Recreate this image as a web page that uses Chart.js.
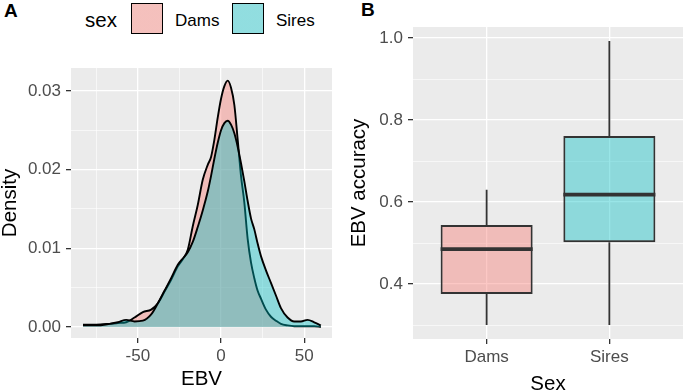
<!DOCTYPE html>
<html>
<head>
<meta charset="utf-8">
<script src="https://cdn.jsdelivr.net/npm/chart.js@4.4.0/dist/chart.umd.min.js"></script>
<style>
  body { margin: 0; width: 685px; height: 390px; overflow: hidden; background: #fff; position: relative;
         font-family: "Liberation Sans", Arial, sans-serif; }
  canvas { position: absolute; top: 0; }
  #panelA { left: 0; }
  #panelB { left: 340px; }
  .tag { position: absolute; font-weight: bold; font-size: 19px; line-height: 20px; color: #000; }
  .leg { position: absolute; color: #000; white-space: nowrap; }
  .key { position: absolute; top: 3px; width: 32px; height: 31px; box-sizing: border-box; border: 1.5px solid #000; }
</style>
</head>
<body>
<div class="tag" style="left:4px; top:1px;">A</div>
<div class="tag" style="left:361px; top:0px;">B</div>

<div class="leg" style="left:85px; top:8px; font-size:20.5px; line-height:24px;">sex</div>
<div class="key" style="left:131px; background: linear-gradient(rgba(248,118,109,0.4), rgba(248,118,109,0.4)), #f2f2f2;"></div>
<div class="leg" style="left:175px; top:11px; font-size:17px; line-height:20px;">Dams</div>
<div class="key" style="left:232px; background: linear-gradient(rgba(0,191,196,0.4), rgba(0,191,196,0.4)), #f2f2f2;"></div>
<div class="leg" style="left:276px; top:11px; font-size:17px; line-height:20px;">Sires</div>

<canvas id="panelA" width="340" height="390"></canvas>
<canvas id="panelB" width="345" height="390"></canvas>

<script>
// --- panel A: EBV density by sex
const ebvGrid = [-83, -75, -67, -62, -57, -52, -47, -42, -38, -34, -30, -26, -23, -20, -17, -14, -11, -8, -6, -4, -2,
                 0, 2, 4, 6, 8, 10, 12, 14, 16, 18, 20, 22, 24, 27, 30, 33, 36, 40, 44, 48, 52, 56, 60];
const damsDensity = [0.0003, 0.0003, 0.0004, 0.0005, 0.0006, 0.0012, 0.0019, 0.0022, 0.0030, 0.0045, 0.0060,
                     0.0077, 0.0086, 0.0098, 0.0128, 0.0155, 0.0187, 0.0206, 0.0216, 0.0238, 0.0266,
                     0.0290, 0.0306, 0.0313, 0.0304, 0.0282, 0.0238, 0.0192, 0.0158, 0.0112, 0.0082, 0.0062,
                     0.0046, 0.0036, 0.0022, 0.0013, 0.0008, 0.0004, 0.0002, 0.0001, 0.0001, 0.0001, 0.0001, 0.0000];
const siresDensity = [0.0002, 0.0002, 0.0004, 0.0006, 0.0009, 0.0007, 0.0008, 0.0016, 0.0030, 0.0046, 0.0062,
                      0.0079, 0.0087, 0.0095, 0.0108, 0.0127, 0.0148, 0.0172, 0.0192, 0.0214, 0.0234,
                      0.0250, 0.0259, 0.0262, 0.0257, 0.0246, 0.0229, 0.0208, 0.0185, 0.0160, 0.0138, 0.0124,
                      0.0106, 0.0090, 0.0072, 0.0056, 0.0040, 0.0024, 0.0012, 0.0007, 0.0007, 0.0009, 0.0006, 0.0002];
const ebvMajor = [-50, 0, 50];
const ebvMinor = [-75, -25, 25];
const densityMajor = [0, 0.01, 0.02, 0.03];
const densityMinor = [0.005, 0.015, 0.025];

// --- panel B: EBV accuracy boxplot
const sexLabels = ['Dams', 'Sires'];
const accMin = [0.300, 0.300];
const accQ1 = [0.376, 0.502];
const accMedian = [0.485, 0.618];
const accQ3 = [0.544, 0.761];
const accMax = [0.630, 0.993];
const accMajor = [0.4, 0.6, 0.8, 1.0];
const accMinor = [0.3, 0.5, 0.7, 0.9];

const damsFill = 'rgba(248,118,109,0.4)';
const siresFill = 'rgba(0,191,196,0.4)';
const fontFamily = '"Liberation Sans", Arial, sans-serif';

Chart.defaults.font.family = fontFamily;
Chart.defaults.animation = false;

function makeTicks(major, minor) {
  return major.map(v => ({ value: v }))
    .concat(minor.map(v => ({ value: v, minor: true })))
    .sort((a, b) => a.value - b.value);
}

// ggplot style grid: white lines, thin minor ones, dark tick marks on majors only
function ggGrid() {
  return {
    color: '#ffffff',
    offset: false,
    lineWidth: c => (c.tick && c.tick.minor) ? 0.6 : 1.3,
    drawTicks: true,
    tickLength: 5,
    tickWidth: 1.3,
    tickColor: c => (c.tick && c.tick.minor) ? 'rgba(0,0,0,0)' : '#333333'
  };
}

const panelBg = {
  id: 'panelBg',
  beforeDraw(chart) {
    const { ctx, chartArea: a } = chart;
    ctx.save();
    ctx.fillStyle = '#EBEBEB';
    ctx.fillRect(a.left, a.top, a.width, a.height);
    ctx.restore();
  }
};

new Chart(document.getElementById('panelA'), {
  type: 'line',
  data: {
    datasets: [
      {
        label: 'Dams',
        data: ebvGrid.map((v, i) => ({ x: v, y: damsDensity[i] })),
        backgroundColor: damsFill,
        borderColor: '#000',
        borderWidth: 1.9,
        fill: 'origin',
        order: 1
      },
      {
        label: 'Sires',
        data: ebvGrid.map((v, i) => ({ x: v, y: siresDensity[i] })),
        backgroundColor: siresFill,
        borderColor: '#000',
        borderWidth: 1.9,
        fill: 'origin',
        order: 0
      }
    ]
  },
  options: {
    responsive: false,
    events: [],
    cubicInterpolationMode: 'monotone',
    elements: { point: { radius: 0 } },
    layout: { padding: { top: 68, right: 8, bottom: 0, left: 0 } },
    plugins: { legend: { display: false }, tooltip: { enabled: false } },
    scales: {
      x: {
        type: 'linear', min: -90.2, max: 66.7,
        afterBuildTicks: s => { s.ticks = makeTicks(ebvMajor, ebvMinor); },
        afterFit: s => { s.height = 52; },
        grid: ggGrid(),
        border: { display: false },
        ticks: {
          color: '#4D4D4D', font: { size: 17 }, padding: 3, autoSkip: false, maxRotation: 0,
          callback: (v, i, t) => t[i].minor ? '' : String(v)
        },
        title: { display: true, text: 'EBV', color: '#000', font: { size: 20.5, lineHeight: 1 }, padding: { top: 0, bottom: 0 } }
      },
      y: {
        type: 'linear', min: -0.0014, max: 0.0329,
        afterBuildTicks: s => { s.ticks = makeTicks(densityMajor, densityMinor); },
        afterFit: s => { s.width = 71; },
        grid: ggGrid(),
        border: { display: false },
        ticks: {
          color: '#4D4D4D', font: { size: 17 }, padding: 5, autoSkip: false,
          callback: (v, i, t) => t[i].minor ? '' : v.toFixed(2)
        },
        title: { display: true, text: 'Density', color: '#000', font: { size: 20.5, lineHeight: 1 }, padding: { top: 0, bottom: 0 } }
      }
    }
  },
  plugins: [panelBg]
});

// whiskers under the boxes, medians on top
const boxParts = {
  id: 'boxParts',
  beforeDatasetsDraw(chart) {
    const { ctx, scales: { x, y } } = chart;
    ctx.save();
    ctx.strokeStyle = '#333333';
    ctx.lineWidth = 1.8;
    sexLabels.forEach((_, i) => {
      const px = x.getPixelForValue(i);
      ctx.beginPath();
      ctx.moveTo(px, y.getPixelForValue(accMax[i]));
      ctx.lineTo(px, y.getPixelForValue(accQ3[i]));
      ctx.moveTo(px, y.getPixelForValue(accQ1[i]));
      ctx.lineTo(px, y.getPixelForValue(accMin[i]));
      ctx.stroke();
    });
    ctx.restore();
  },
  afterDatasetsDraw(chart) {
    const { ctx, scales: { y } } = chart;
    const bars = chart.getDatasetMeta(0).data;
    ctx.save();
    ctx.strokeStyle = '#333333';
    ctx.lineWidth = 3.8;
    bars.forEach((bar, i) => {
      const py = y.getPixelForValue(accMedian[i]);
      ctx.beginPath();
      ctx.moveTo(bar.x - bar.width / 2, py);
      ctx.lineTo(bar.x + bar.width / 2, py);
      ctx.stroke();
    });
    ctx.restore();
  }
};

new Chart(document.getElementById('panelB'), {
  type: 'bar',
  data: {
    datasets: [{
      label: 'EBV accuracy',
      data: sexLabels.map((_, i) => ({ x: i, y: [accQ1[i], accQ3[i]] })),
      backgroundColor: [damsFill, siresFill],
      borderColor: '#333333',
      borderWidth: 1.9,
      borderSkipped: false,
      categoryPercentage: 1,
      barPercentage: 0.75
    }]
  },
  options: {
    responsive: false,
    events: [],
    layout: { padding: { top: 27, right: 2, bottom: 0, left: 0 } },
    plugins: { legend: { display: false }, tooltip: { enabled: false } },
    scales: {
      x: {
        type: 'linear', min: -0.6, max: 1.6, offset: false,
        afterBuildTicks: s => { s.ticks = sexLabels.map((_, i) => ({ value: i })); },
        afterFit: s => { s.height = 51; },
        grid: ggGrid(),
        border: { display: false },
        ticks: {
          color: '#4D4D4D', font: { size: 17 }, padding: 3, autoSkip: false, maxRotation: 0,
          callback: v => sexLabels[v]
        },
        title: { display: true, text: 'Sex', color: '#000', font: { size: 20.5, lineHeight: 0.6 }, padding: { top: 0, bottom: 0 } }
      },
      y: {
        type: 'linear', min: 0.266, max: 1.027,
        afterBuildTicks: s => { s.ticks = makeTicks(accMajor, accMinor); },
        afterFit: s => { s.width = 73; },
        grid: ggGrid(),
        border: { display: false },
        ticks: {
          color: '#4D4D4D', font: { size: 17 }, padding: 5, autoSkip: false,
          callback: (v, i, t) => t[i].minor ? '' : v.toFixed(1)
        },
        title: { display: true, text: 'EBV accuracy', color: '#000', font: { size: 20.5, lineHeight: 1 }, padding: { top: 9, bottom: 0 } }
      }
    }
  },
  plugins: [panelBg, boxParts]
});
</script>
</body>
</html>
